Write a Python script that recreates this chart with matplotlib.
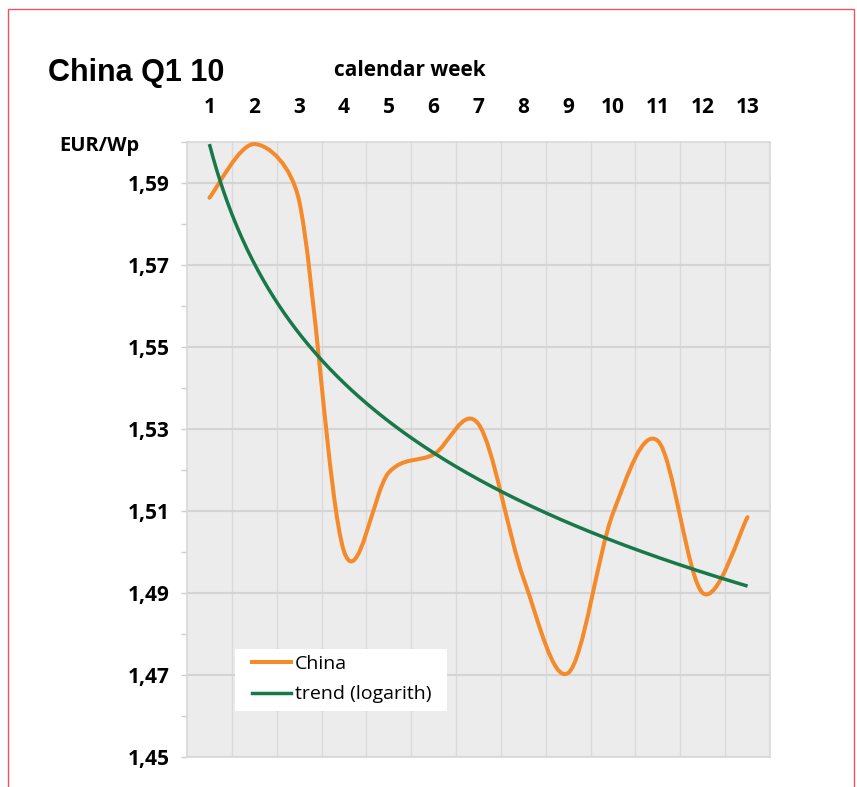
import numpy as np
import matplotlib
matplotlib.use("Agg")
import matplotlib.pyplot as plt
from matplotlib.path import Path
from matplotlib.patches import PathPatch, Rectangle
from matplotlib.lines import Line2D
from matplotlib.ticker import FixedLocator, FuncFormatter

# ============================================================================
# Data
# ============================================================================
weeks = [1, 2, 3, 4, 5, 6, 7, 8, 9, 10, 11, 12, 13]
china = [1.5864, 1.5995, 1.5857, 1.5002, 1.5194, 1.5238, 1.5312,
         1.4937, 1.4705, 1.5095, 1.5271, 1.4900, 1.5085]
y_ticks = [1.45, 1.47, 1.49, 1.51, 1.53, 1.55, 1.57, 1.59]

title = "China Q1 10"
x_title = "calendar week"
y_title = "EUR/Wp"
series_labels = ["China", "trend (logarith)"]

# ============================================================================
# Style
# ============================================================================
c_orange = "#f58a2b"
c_green = "#17784a"
c_bg = "#ececec"
c_grid = "#d4d4d4"
label_font = "Open Sans"

W, H = 857, 787
ax_box = [187, 142, 770, 757]          # left, top, right, bottom in pixels
xlim = (0.5, 13.5)
ylim = (1.45, 1.60)

fig = plt.figure(figsize=(W / 100, H / 100), dpi=100)
ax = fig.add_axes([ax_box[0] / W, 1 - ax_box[3] / H,
                   (ax_box[2] - ax_box[0]) / W, (ax_box[3] - ax_box[1]) / H])
ax.set_facecolor(c_bg)

# ----------------------------------------------------------------------------
# Smoothed line (Excel-like bezier; control arms = 1/6 of the neighbour
# chord, capped at half of the adjacent segment, in screen space)
# ----------------------------------------------------------------------------
sx = (ax_box[2] - ax_box[0]) / (xlim[1] - xlim[0])
sy = (ax_box[3] - ax_box[1]) / (ylim[1] - ylim[0])
P = np.column_stack([np.array(weeks, float) * sx, np.array(china) * sy])
n = len(P)
seg = np.linalg.norm(np.diff(P, axis=0), axis=1)


def capped(v, limit):
    L = np.linalg.norm(v)
    return v if L <= limit else v * limit / L


arm_out = np.zeros_like(P)   # control offset toward next point
arm_in = np.zeros_like(P)    # control offset toward previous point
for i in range(n):
    if i == 0:
        arm_out[i] = capped((P[1] - P[0]) / 6, 0.5 * seg[0])
    elif i == n - 1:
        arm_in[i] = capped((P[i] - P[i - 1]) / 6, 0.5 * seg[i - 1])
    else:
        D = (P[i + 1] - P[i - 1]) / 6
        arm_out[i] = capped(D, 0.5 * seg[i])
        arm_in[i] = capped(D, 0.5 * seg[i - 1])

verts = [P[0]]
codes = [Path.MOVETO]
for i in range(n - 1):
    verts += [P[i] + arm_out[i], P[i + 1] - arm_in[i + 1], P[i + 1]]
    codes += [Path.CURVE4] * 3
verts = np.array(verts) / [sx, sy]
ax.add_patch(PathPatch(Path(verts, codes), fill=False, edgecolor=c_orange,
                       lw=2.9, capstyle="round", joinstyle="round", zorder=3))

# logarithmic trend fitted to the data
x = np.array(weeks, dtype=float)
b, a = np.polyfit(np.log(x), np.array(china), 1)
xt = np.linspace(x[0], x[-1], 300)
ax.plot(xt, a + b * np.log(xt), color=c_green, lw=2.5, zorder=4,
        solid_capstyle="butt")

# ----------------------------------------------------------------------------
# Axes
# ----------------------------------------------------------------------------
ax.set_xlim(*xlim)
ax.set_ylim(*ylim)

ax.xaxis.tick_top()
ax.set_xticks(weeks)
ax.xaxis.set_minor_locator(FixedLocator(np.arange(1.5, 13.5, 1)))
ax.tick_params(axis="x", which="major", length=0, pad=17, labelsize=15)
ax.tick_params(axis="x", which="minor", length=0)
ax.grid(axis="x", which="minor", color="#dadada", lw=1.0)

ax.set_yticks(y_ticks)
ax.yaxis.set_minor_locator(FixedLocator(np.arange(1.46, 1.60, 0.02)))
ax.yaxis.set_major_formatter(FuncFormatter(lambda v, p: f"{v:.2f}".replace(".", ",")))
ax.tick_params(axis="y", which="both", length=4, width=1, color="#cfcfcf",
               direction="out", pad=8.5, labelsize=15)
ax.grid(axis="y", which="major", color=c_grid, lw=1.5)
ax.set_axisbelow(True)

for lbl in ax.get_xticklabels() + ax.get_yticklabels():
    lbl.set_fontfamily(label_font)
    lbl.set_fontweight("bold")

for s in ax.spines.values():
    s.set_color("#d8d8d8")
    s.set_linewidth(1.2)

# ----------------------------------------------------------------------------
# Legend (white box behind a frameless legend)
# ----------------------------------------------------------------------------
ax.add_patch(Rectangle((0.0823, 0.0748), 0.364, 0.101, transform=ax.transAxes,
                       facecolor="white", edgecolor="none", zorder=5))
handles = [Line2D([], [], color=c_orange, lw=2.9),
           Line2D([], [], color=c_green, lw=2.5)]
leg = ax.legend(handles, series_labels, loc="center left",
                bbox_to_anchor=(0.1115, 0.1268), frameon=False,
                prop={"family": label_font, "size": 14},
                handlelength=2.0, handletextpad=0.2, borderpad=0,
                labelspacing=0.65, borderaxespad=0)
leg.set_zorder(6)

# ----------------------------------------------------------------------------
# Texts
# ----------------------------------------------------------------------------
fig.text(48 / W, 1 - 81 / H, title, family="Liberation Sans",
         weight="bold", size=22, ha="left", va="baseline")
fig.text(410 / W, 1 - 71 / H, x_title, family=label_font, weight="bold",
         size=15, ha="center", va="center")
fig.text(139 / W, 1 - 146 / H, y_title, family=label_font, weight="bold",
         size=14.5, ha="right", va="center")

# red frame round the figure
fig.patches.append(Rectangle((8 / W, -0.05), 846 / W, 1 - 9 / H + 0.05,
                             transform=fig.transFigure, fill=False,
                             edgecolor="#e8555a", lw=1.0))

plt.savefig("out.png", dpi=100)
